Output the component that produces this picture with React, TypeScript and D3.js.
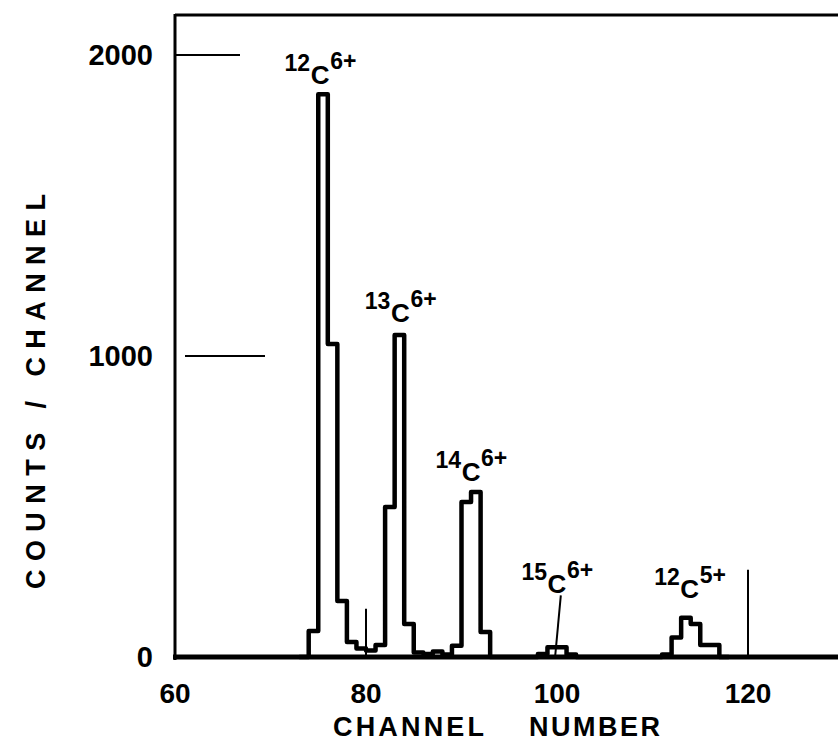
import * as d3 from "d3";

// channel-by-channel counts
const channels = [
  73, 74, 75, 76, 77, 78, 79, 80, 81, 82, 83, 84, 85, 86, 87, 88, 89, 90, 91, 92,
  93, 94, 95, 96, 97, 98, 99, 100, 101, 102, 103, 104, 105, 106, 107, 108, 109,
  110, 111, 112, 113, 114, 115, 116, 117,
];
const counts = [
  0, 86, 1870, 1040, 186, 50, 28, 22, 40, 498, 1070, 110, 15, 10, 18, 8, 37, 515,
  548, 83, 0, 0, 0, 0, 0, 10, 32, 32, 8, 0, 0, 0, 0, 0, 0, 0, 0, 0, 8, 65, 130,
  110, 40, 40, 0,
];

const xTicks = [60, 80, 100, 120];
const yTicks = [0, 1000, 2000];

// reference marker lines: channel at the top, channel at the bottom, top count
const markerTopChannels = [80, 100.4, 120];
const markerBottomChannels = [80, 99.8, 120];
const markerTops = [160, 205, 290];

// peak labels: mass, charge, and where the "C" sits (channel, count)
const labelMass = ["12", "13", "14", "15", "12"];
const labelCharge = ["6+", "6+", "6+", "6+", "5+"];
const labelChannel = [75.2, 83.6, 91.0, 100.0, 113.9];
const labelCount = [1905, 1113, 585, 214, 197];

const W = 838;
const H = 745;
const font = "'Liberation Sans', Arial, sans-serif";

export default function App() {
  const x = d3.scaleLinear([60, 130], [175, 843.5]);
  const y = d3.scaleLinear([0, 2000], [657, 55]);

  const pts: [number, number][] = channels.map((c, i) => [c, counts[i]]);
  pts.push([channels[channels.length - 1] + 1, 0]);

  const line = d3
    .line<[number, number]>()
    .x((d) => x(d[0]))
    .y((d) => y(d[1]))
    .curve(d3.curveStepAfter);

  const tickLen: Record<number, [number, number]> = {
    2000: [0, 65],
    1000: [10, 90],
  };

  return (
    <svg
      width={W}
      height={H}
      style={{ position: "absolute", left: 0, top: 0, background: "#fff" }}
      fontFamily={font}
      fontWeight="bold"
    >
      {/* frame */}
      <line x1={x(60)} x2={W} y1={15} y2={15} stroke="#000" strokeWidth={3} />
      <line x1={x(60)} x2={x(60)} y1={14} y2={660} stroke="#000" strokeWidth={3} />

      {/* y ticks */}
      {yTicks
        .filter((t) => tickLen[t])
        .map((t) => (
          <line
            key={t}
            x1={x(60) + tickLen[t][0]}
            x2={x(60) + tickLen[t][1]}
            y1={y(t)}
            y2={y(t)}
            stroke="#000"
            strokeWidth={2}
          />
        ))}
      {yTicks.map((t) => (
        <text
          key={t}
          x={153}
          y={y(t)}
          dy="0.36em"
          textAnchor="end"
          fontSize={29}
          fill="#000"
        >
          {t}
        </text>
      ))}

      {/* marker lines */}
      {markerTopChannels.map((c, i) => (
        <line
          key={i}
          x1={x(c)}
          x2={x(markerBottomChannels[i])}
          y1={y(markerTops[i])}
          y2={y(0)}
          stroke="#000"
          strokeWidth={2}
        />
      ))}

      {/* histogram */}
      <path
        d={line(pts) ?? ""}
        fill="none"
        stroke="#000"
        strokeWidth={4.5}
        strokeLinejoin="round"
      />

      {/* baseline axis */}
      <line x1={x(60) - 2} x2={W} y1={y(0)} y2={y(0)} stroke="#000" strokeWidth={5} />

      {/* x tick labels */}
      {xTicks.map((t) => (
        <text key={t} x={x(t)} y={703} textAnchor="middle" fontSize={28} fill="#000">
          {t}
        </text>
      ))}

      {/* peak labels */}
      {labelMass.map((m, i) => {
        const cx = x(labelChannel[i]);
        const cy = y(labelCount[i]);
        return (
          <g key={i} fill="#000">
            <text x={cx - 10} y={cy - 13} textAnchor="end" fontSize={23}>
              {m}
            </text>
            <text x={cx} y={cy} textAnchor="middle" fontSize={26}>
              C
            </text>
            <text x={cx + 10} y={cy - 15} textAnchor="start" fontSize={23}>
              {labelCharge[i]}
            </text>
          </g>
        );
      })}

      {/* axis titles */}
      <text x={333} y={736} fontSize={27} textLength={151} lengthAdjust="spacing" fill="#000">
        CHANNEL
      </text>
      <text x={529} y={736} fontSize={27} textLength={131} lengthAdjust="spacing" fill="#000">
        NUMBER
      </text>
      <text
        transform="translate(45,392) rotate(-90)"
        x={-197}
        y={0}
        fontSize={27}
        textLength={395}
        lengthAdjust="spacing"
        fill="#000"
      >
        COUNTS / CHANNEL
      </text>
    </svg>
  );
}
